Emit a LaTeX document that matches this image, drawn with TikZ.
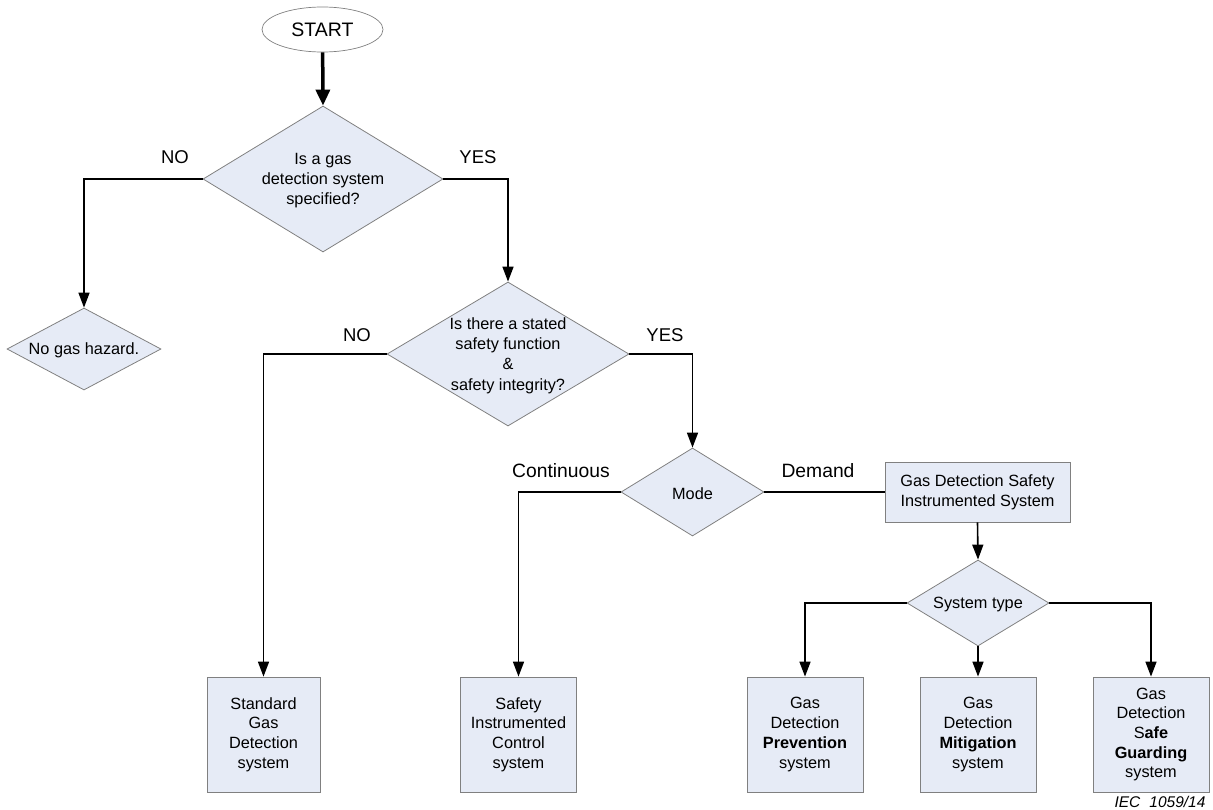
\documentclass[tikz,border=0pt]{standalone}
\usepackage{fontspec}
\setmainfont{Liberation Sans}
\usetikzlibrary{shapes.geometric,arrows.meta}
\definecolor{boxfill}{HTML}{E6EBF6}
\definecolor{boxline}{HTML}{808080}
\tikzset{
  x=1pt,y=-1pt,
  every node/.style={font=\fontsize{16.3}{19.7}\selectfont},
  dia/.style={diamond,draw=boxline,fill=boxfill,line width=0.8pt,inner sep=0pt},
  diatext/.style={label={[align=center,inner sep=0pt,font=\fontsize{16.3}{20.4}\selectfont,yshift=-1.5pt]center:#1}},
  rbox/.style={rectangle,draw=boxline,fill=boxfill,line width=0.8pt,inner sep=0pt,align=center},
  lbl/.style={font=\fontsize{18.5}{20}\selectfont,inner sep=0pt},
  conn/.style={line width=1.6pt,line join=miter},
  arr/.style={conn,-{Triangle[length=15pt,width=11pt]}},
}
\begin{document}
\begin{tikzpicture}
\useasboundingbox (0,0) rectangle (1213,809);
% nodes
\node[ellipse,draw=boxline,line width=0.7pt,minimum width=121pt,minimum height=45pt,inner sep=0pt,font=\fontsize{19.5}{20}\selectfont] (start) at (322.5,29.5) {START};
\node[dia,minimum width=240pt,minimum height=146pt,diatext={Is a gas\\detection system\\specified?}] (d1) at (323,179) {};
\node[dia,minimum width=154pt,minimum height=82pt,diatext={No gas hazard.}] (nogas) at (84,349) {};
\node[dia,minimum width=242pt,minimum height=144pt,diatext={Is there a stated\\safety function\\\&\\safety integrity?}] (d2) at (508,354) {};
\node[dia,minimum width=143pt,minimum height=88pt,diatext={Mode}] (mode) at (692.5,492) {};
\node[rbox,minimum width=185pt,minimum height=60pt] (sis) at (977.5,492) {Gas Detection Safety\\Instrumented System};
\node[dia,minimum width=142pt,minimum height=86pt,diatext={System type}] (st) at (978,603) {};
\node[rbox,minimum width=113pt,minimum height=115pt] (std) at (263.5,734.5) {Standard\\Gas\\Detection\\system};
\node[rbox,minimum width=116pt,minimum height=115pt] (sic) at (518.5,734.5) {Safety\\Instrumented\\Control\\system};
\node[rbox,minimum width=116pt,minimum height=115pt] (prev) at (805,734.5) {Gas\\Detection\\\textbf{Prevention}\\system};
\node[rbox,minimum width=116pt,minimum height=115pt] (mit) at (978,734.5) {Gas\\Detection\\\textbf{Mitigation}\\system};
\node[rbox,minimum width=116pt,minimum height=115pt] (safe) at (1151,734.5) {Gas\\Detection\\S\textbf{afe}\\\textbf{Guarding}\\system};
% labels
\node[lbl] (no1) at (175,157) {NO};
\node[lbl] (yes1) at (478,157) {YES};
\node[lbl] (no2) at (357,335) {NO};
\node[lbl] (yes2) at (665,335) {YES};
\node[lbl,font=\fontsize{19.3}{20}\selectfont] (cont) at (561,471) {Continuous};
\node[lbl,font=\fontsize{19.3}{20}\selectfont] (dem) at (818,471) {Demand};
\node[inner sep=0pt,font=\fontsize{15.5}{16}\selectfont\itshape] (iec) at (1160,802) {IEC\hspace{9pt}1059/14};
% connectors
\draw[line width=3.5pt,-{Triangle[length=16pt,width=14pt]}] (start) -- (d1.north);
\draw[arr] (d1.west) -| (nogas.north);
\draw[arr] (d1.east) -| (d2.north);
\draw[arr] (d2.west) -| (std.north);
\draw[arr] (d2.east) -| (mode.north);
\draw[arr] (mode.west) -| (sic.north);
\draw[conn] (mode.east) -- (sis.west);
\draw[arr] (sis.south) -- (st.north);
\draw[arr] (st.west) -| (prev.north);
\draw[arr] (st.south) -- (mit.north);
\draw[arr] (st.east) -| (safe.north);
\end{tikzpicture}
\end{document}
